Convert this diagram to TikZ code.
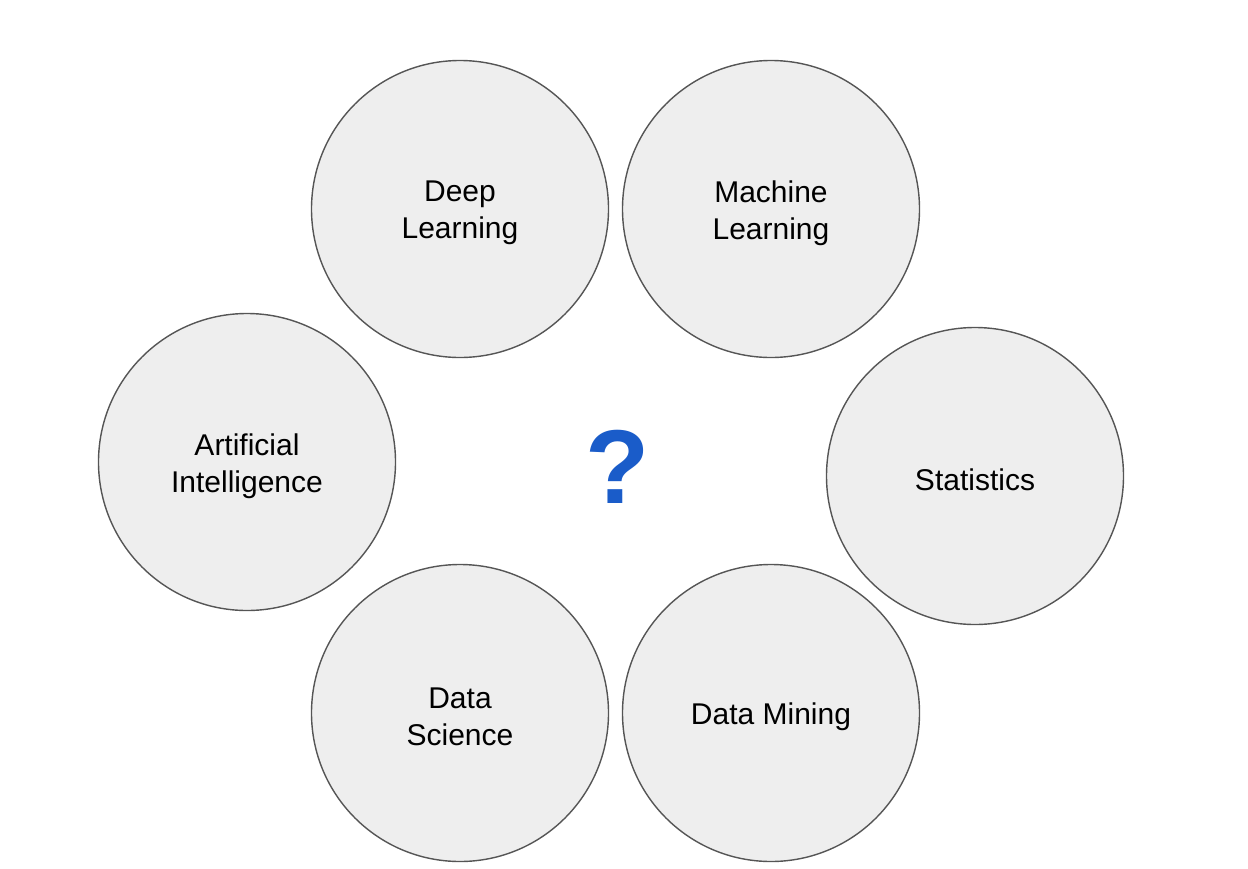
\documentclass[tikz,border=0pt]{standalone}
\usepackage{fontspec}
\setmainfont{Liberation Sans}
\definecolor{circfill}{HTML}{EEEEEE}
\definecolor{circline}{HTML}{555555}
\definecolor{qblue}{HTML}{1A5CC9}
\begin{document}
\begin{tikzpicture}[x=1pt,y=-1pt,
  topic/.style={circle,draw=circline,fill=circfill,line width=1.4pt,minimum size=297pt,inner sep=0pt,
    label={[align=center,font=\fontsize{30}{37}\selectfont,yshift=-4pt]center:#1}}]
\useasboundingbox (0,0) rectangle (1248,868);
\node[topic={Deep\\Learning}] (dl) at (460,209) {};
\node[topic={Machine\\Learning}] (ml) at (771,209) {};
\node[topic={Artificial\\Intelligence}] (ai) at (247,462) {};
\node[topic={Statistics}] (st) at (975,476) {};
\node[topic={Data\\Science}] (ds) at (460,713) {};
\node[topic={Data Mining}] (dm) at (771,713) {};
\node[text=qblue,font=\fontsize{105}{110}\selectfont\bfseries,inner sep=0pt] (q) at (618,467) {?};
\end{tikzpicture}
\end{document}
